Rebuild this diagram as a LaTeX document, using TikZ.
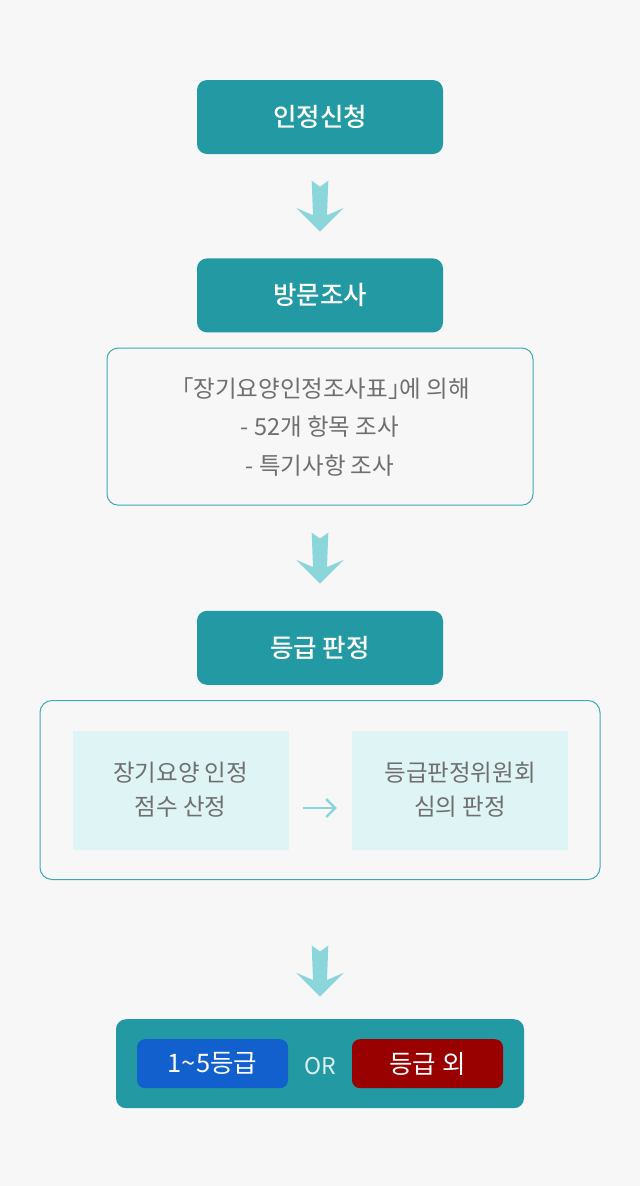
\documentclass[tikz,border=0pt]{standalone}
\usepackage{fontspec}
\setmainfont{Noto Sans CJK KR}
\newfontfamily\titlefont{Noto Sans CJK KR Medium}
\usetikzlibrary{arrows.meta,positioning,calc}
\definecolor{bggray}{HTML}{F7F7F7}
\definecolor{stageteal}{HTML}{239AA3}
\definecolor{lineteal}{HTML}{3FA9B3}
\definecolor{flowcyan}{HTML}{8AD6DA}
\definecolor{panelcyan}{HTML}{DFF4F5}
\definecolor{graytext}{HTML}{6F6F6F}
\definecolor{gradeblue}{HTML}{1160CE}
\definecolor{gradered}{HTML}{990000}
\definecolor{orwhite}{HTML}{DDEFF0}

\begin{document}
\begin{tikzpicture}[
  x=1pt, y=1pt,
  stage/.style={
    fill=stageteal, rounded corners=10pt, text=white,
    minimum width=246pt, minimum height=74pt, inner sep=0pt,
    font=\fontsize{25.5}{28}\selectfont\titlefont
  },
  note/.style={
    draw=lineteal, line width=1pt, rounded corners=11pt,
    minimum width=426pt, minimum height=157pt, align=center,
    text=graytext, font=\fontsize{23.5}{38.5}\selectfont
  },
  panel/.style={
    draw=lineteal, line width=1pt, rounded corners=12pt,
    minimum width=560pt, minimum height=179pt
  },
  part/.style={
    fill=panelcyan, minimum width=216pt, minimum height=119pt,
    inner sep=0pt, align=center, text=graytext,
    font=\fontsize{23.5}{34}\selectfont
  },
  outcome/.style={
    fill=stageteal, rounded corners=10pt,
    minimum width=408pt, minimum height=89pt
  },
  badge/.style={
    rounded corners=8pt, minimum width=151pt, minimum height=49pt,
    inner sep=0pt, text=white, font=\fontsize{25.5}{28}\selectfont
  },
  arrow/.style={-{Straight Barb[length=9pt,width=18pt]}, line width=2.4pt, color=flowcyan},
  flowarrow/.pic={
    \fill[flowcyan] (-8.3,25.5) -- (0,19.5) -- (8.3,25.5) -- (7,-9) -- (23.7,-1.8)
      -- (0,-25.5) -- (-23.7,-1.8) -- (-7,-9) -- cycle;
  }
]
  \fill[bggray] (0,0) rectangle (640,-1186);

  \node[stage] (apply) at (320,-117) {인정신청};
  \node[stage, below=104pt of apply] (visit) {방문조사};
  \node[note, below=15pt of visit] (survey) {「장기요양인정조사표」\kern-0.5em에 의해\\- 52개 항목 조사\\- 특기사항 조사};
  \node[stage, below=105pt of survey] (grade) {등급 판정};
  \node[panel, below=15pt of grade] (review) {};
  \node[part, right=33pt of review.west] (score) {장기요양 인정\\점수 산정};
  \node[part, right=63pt of score] (committee) {등급판정위원회\\심의 판정};
  \node[outcome, below=139pt of review] (result) {};
  \node[badge, fill=gradeblue, right=21pt of result.west] (inside) {1\textasciitilde5등급};
  \node[text=orwhite, font=\fontsize{23}{26}\selectfont, yshift=-2pt] (or) at (result) {OR};
  \node[badge, fill=gradered, left=21pt of result.east] (outside) {등급 외};

  \pic at ($(apply.south)!0.5!(visit.north)$) {flowarrow};
  \pic at ($(survey.south)!0.5!(grade.north)$) {flowarrow};
  \pic at ($(review.south)+(0,-91)$) {flowarrow};
  \draw[arrow] ([xshift=14pt,yshift=-18pt]score.east) -- ([xshift=-15pt,yshift=-18pt]committee.west);
\end{tikzpicture}
\end{document}
